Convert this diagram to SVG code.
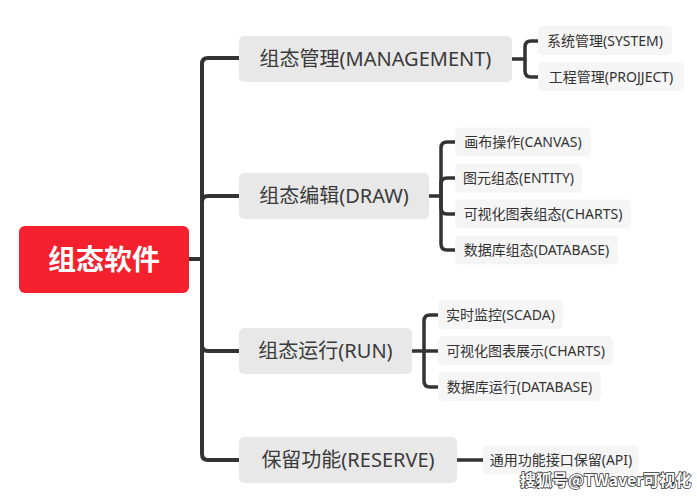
<svg xmlns="http://www.w3.org/2000/svg" width="697" height="497" viewBox="0 0 697 497">
<style>
.l1{fill:#e8e8e8}
.l2{fill:#f5f5f5}
.t1{font-family:"Noto Sans","Noto Sans CJK SC",sans-serif;font-size:20px;fill:#3a3a3a;text-anchor:middle}
.t2{font-family:"Noto Sans","Noto Sans CJK SC",sans-serif;font-size:14px;fill:#333;text-anchor:middle}
.c1{fill:none;stroke:#333;stroke-width:4}
.c2{fill:none;stroke:#333;stroke-width:3.5}
</style>
<rect width="697" height="497" fill="#fff"/>
<g id="connectors">
<path class="c1" d="M189 259 H202 V64 Q202 58 208 58 H239"/>
<path class="c1" d="M202 259 V202 Q202 196 208 196 H239"/>
<path class="c1" d="M202 259 V345 Q202 351 208 351 H239"/>
<path class="c1" d="M202 259 V454 Q202 460 208 460 H239"/>
<path class="c2" d="M512 59 H525 V47 Q525 41 531 41 H538"/>
<path class="c2" d="M525 59 V71 Q525 77 531 77 H538"/>
<path class="c2" d="M429 196 H441 V148 Q441 142 447 142 H455"/>
<path class="c2" d="M441 196 V184 Q441 178 447 178 H455"/>
<path class="c2" d="M441 196 V208 Q441 214 447 214 H455"/>
<path class="c2" d="M441 196 V244 Q441 250 447 250 H455"/>
<path class="c2" d="M412 351 H438"/>
<path class="c2" d="M424 351 V321 Q424 315 430 315 H438"/>
<path class="c2" d="M424 351 V381 Q424 387 430 387 H438"/>
<path class="c2" d="M457 460 H483"/>
</g>
<g id="root">
<rect x="19" y="226" width="170" height="67" rx="6" fill="#f5202e"/>
<text x="104" y="270" font-family="Noto Sans CJK SC, sans-serif" font-size="28" font-weight="bold" fill="#fff" text-anchor="middle">组态软件</text>
</g>
<g id="management">
<rect class="l1" x="239" y="36" width="273" height="46" rx="5"/>
<text class="t1" x="375.5" y="66">组态管理(MANAGEMENT)</text>
</g>
<g id="draw">
<rect class="l1" x="239" y="173" width="190" height="46" rx="5"/>
<text class="t1" x="334" y="203">组态编辑(DRAW)</text>
</g>
<g id="run">
<rect class="l1" x="239" y="328" width="173" height="46" rx="5"/>
<text class="t1" x="325.5" y="358">组态运行(RUN)</text>
</g>
<g id="reserve">
<rect class="l1" x="239" y="437" width="218" height="46" rx="5"/>
<text class="t1" x="348" y="467">保留功能(RESERVE)</text>
</g>
<g id="system">
<rect class="l2" x="538" y="26" width="134" height="29" rx="5"/>
<text class="t2" x="605" y="45.5">系统管理(SYSTEM)</text>
</g>
<g id="project">
<rect class="l2" x="538" y="62" width="146" height="29" rx="5"/>
<text class="t2" x="611" y="81.5">工程管理(PROJJECT)</text>
</g>
<g id="canvas">
<rect class="l2" x="455" y="127.5" width="136" height="29" rx="5"/>
<text class="t2" x="523" y="147">画布操作(CANVAS)</text>
</g>
<g id="entity">
<rect class="l2" x="455" y="163.5" width="127" height="29" rx="5"/>
<text class="t2" x="518.5" y="183">图元组态(ENTITY)</text>
</g>
<g id="charts">
<rect class="l2" x="455" y="199.5" width="176" height="29" rx="5"/>
<text class="t2" x="543" y="219">可视化图表组态(CHARTS)</text>
</g>
<g id="database">
<rect class="l2" x="455" y="235.5" width="163" height="29" rx="5"/>
<text class="t2" x="536.5" y="255">数据库组态(DATABASE)</text>
</g>
<g id="scada">
<rect class="l2" x="438" y="300" width="125" height="29" rx="5"/>
<text class="t2" x="500.5" y="320">实时监控(SCADA)</text>
</g>
<g id="charts-run">
<rect class="l2" x="438" y="336" width="175" height="29" rx="5"/>
<text class="t2" x="525.5" y="356">可视化图表展示(CHARTS)</text>
</g>
<g id="database-run">
<rect class="l2" x="438" y="372" width="163" height="29" rx="5"/>
<text class="t2" x="519.5" y="392">数据库运行(DATABASE)</text>
</g>
<g id="api">
<rect class="l2" x="483" y="445.5" width="156" height="29" rx="5"/>
<text class="t2" x="561" y="465">通用功能接口保留(API)</text>
</g>
<text x="520" y="486" font-family="Noto Sans CJK SC, sans-serif" font-size="16" font-weight="bold" fill="#fff" stroke="#333" stroke-width="1.6" paint-order="stroke">搜狐号@TWaver可视化</text>
</svg>
